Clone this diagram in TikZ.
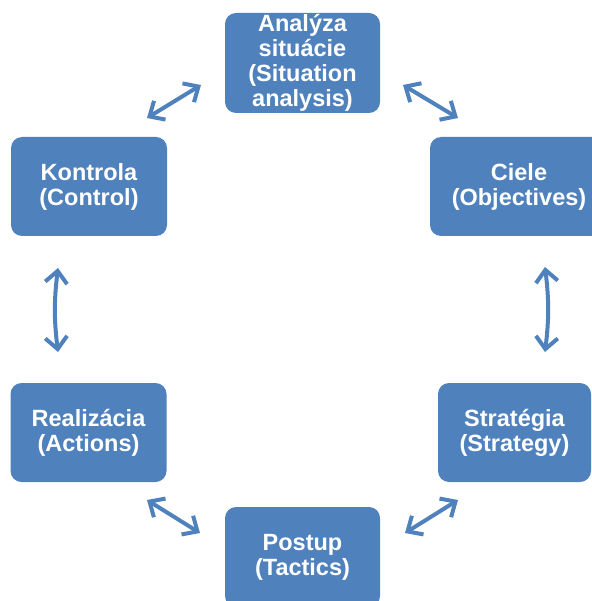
\documentclass[tikz,border=0pt]{standalone}
\usepackage{fontspec}
\setmainfont{Liberation Sans}
\usetikzlibrary{arrows.meta}
\definecolor{boxblue}{HTML}{4F81BD}
\tikzset{
  stagebox/.style={fill=boxblue, rounded corners=11pt, text=white, align=center,
    font=\bfseries\fontsize{23.5}{25}\selectfont, inner sep=0pt},
  dblarrow/.style={draw=boxblue, line width=4pt,
    {Straight Barb[length=12pt,width=22pt]}-{Straight Barb[length=12pt,width=22pt]}}
}
\begin{document}
\begin{tikzpicture}[x=1pt,y=-1pt]
\useasboundingbox (0,0) rectangle (591,601);
\node[stagebox, minimum width=155pt, minimum height=100pt] (ana) at (302.5,63) {Analýza\\situácie\\(Situation\\analysis)};
\node[stagebox, minimum width=178pt, minimum height=99pt] (cie) at (519,186.5) {Ciele\\(Objectives)};
\node[stagebox, minimum width=153pt, minimum height=99pt] (str) at (514.5,432.5) {Stratégia\\(Strategy)};
\node[stagebox, minimum width=155pt, minimum height=100pt] (pos) at (302.5,557) {Postup\\(Tactics)};
\node[stagebox, minimum width=156pt, minimum height=99pt] (rea) at (88.5,432.5) {Realizácia\\(Actions)};
\node[stagebox, minimum width=156pt, minimum height=99pt] (kon) at (89,186.5) {Kontrola\\(Control)};
\coordinate (a1s) at (147,118); \coordinate (a1e) at (201,85);
\coordinate (a2s) at (403,85);  \coordinate (a2e) at (458,118);
\coordinate (a3s) at (545,267); \coordinate (a3e) at (545,352);
\coordinate (a4s) at (405,533); \coordinate (a4e) at (458,500);
\coordinate (a5s) at (147,500); \coordinate (a5e) at (200,533);
\coordinate (a6s) at (58,268);  \coordinate (a6e) at (58,352);
\draw[dblarrow] (a1s) -- (a1e);
\draw[dblarrow] (a2s) -- (a2e);
\draw[dblarrow] (a3s) to[bend left=7] (a3e);
\draw[dblarrow] (a4s) -- (a4e);
\draw[dblarrow] (a5s) -- (a5e);
\draw[dblarrow] (a6s) to[bend right=7] (a6e);
\end{tikzpicture}
\end{document}
